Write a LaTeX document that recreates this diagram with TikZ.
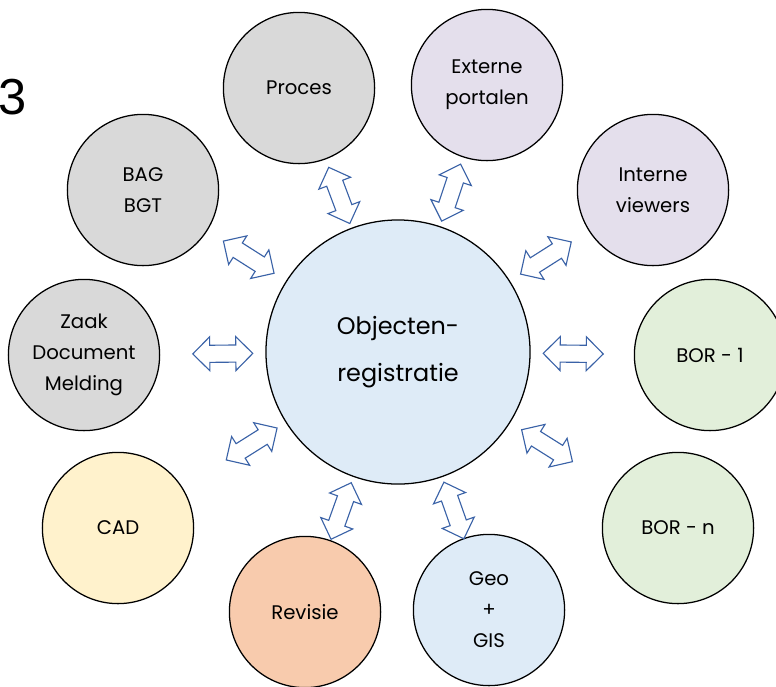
\documentclass[tikz,border=0pt]{standalone}
\usepackage{fontspec}
\setmainfont{Poppins}
\newfontfamily\cijferfont{Liberation Sans}
\usetikzlibrary{shapes.arrows, calc}

\definecolor{grijs}{HTML}{D9D9D9}
\definecolor{paars}{HTML}{E4DFEC}
\definecolor{groen}{HTML}{E2EFDA}
\definecolor{lichtblauw}{HTML}{DEEBF7}
\definecolor{geel}{HTML}{FFF2CC}
\definecolor{oranje}{HTML}{F8CBAD}
\definecolor{pijlblauw}{HTML}{3A62A7}

\tikzset{
    bol/.style = {circle, draw = black, line width = 0.9pt, minimum size = 3.78cm, inner sep = 0pt, align = center, font = \fontsize{14}{22}\selectfont},
    dubbelpijl/.style = {double arrow, draw = pijlblauw, line width = 0.8pt, fill = white, minimum height = 1.5cm, inner xsep = 0pt, inner ysep = 0.2cm, double arrow head extend = 0.21cm, double arrow tip angle = 90}
}

\begin{document}
\begin{tikzpicture}[x = 0.025cm, y = -0.025cm]
    \useasboundingbox (0, 0) rectangle (776, 686);
    \node[font = \cijferfont\fontsize{36}{36}\selectfont, anchor = west, inner sep = 0pt] (nr) at (-2, 97) {3};
    % centrale registratie
    \node[bol, fill = lichtblauw, minimum size = 6.6cm, font = \fontsize{17}{33}\selectfont] (reg) at (398, 352) {Objecten-\\registratie};
    % omringende systemen
    \node[bol, fill = grijs] (proces) at (299, 88) {Proces};
    \node[bol, fill = paars] (extern) at (487, 85) {Externe\\portalen};
    \node[bol, fill = paars] (intern) at (653, 190) {Interne\\viewers};
    \node[bol, fill = groen] (borA) at (710, 355) {BOR - 1};
    \node[bol, fill = groen] (borN) at (678, 528) {BOR - n};
    \node[bol, fill = lichtblauw] (geo) at (489, 610) {Geo\\+\\GIS};
    \node[bol, fill = oranje] (revisie) at (305, 612) {Revisie};
    \node[bol, fill = geel] (cad) at (118, 528) {CAD};
    \node[bol, fill = grijs] (zaak) at (84, 355) {Zaak\\Document\\Melding};
    \node[bol, fill = grijs] (bag) at (143, 190) {BAG\\BGT};
    % koppelingen
    \foreach \n/\d in {proces/4.18, extern/4.2, intern/4.38, borA/4.38, borN/4.4, geo/4.2, revisie/4.22, cad/4.32, zaak/4.38, bag/4.42}
        \path (reg) -- ($(reg)!\d cm!(\n)$) node[dubbelpijl, sloped, pos = 1] (p-\n) {};
\end{tikzpicture}
\end{document}
